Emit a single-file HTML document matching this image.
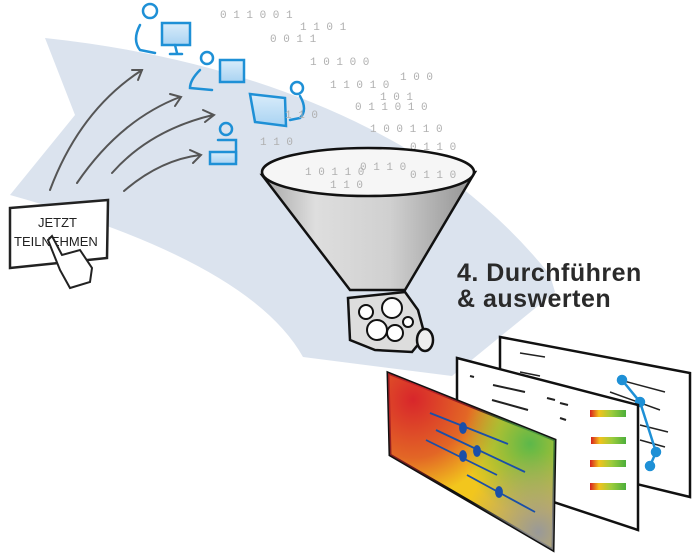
<!DOCTYPE html>
<html><head><meta charset="utf-8"><style>
html,body{margin:0;padding:0;background:#fff;width:700px;height:559px;overflow:hidden}
svg{display:block}
.b{font-family:"Liberation Mono",monospace;fill:#b0b0b0;font-size:11px}
</style></head><body>
<svg width="700" height="559" viewBox="0 0 700 559" xmlns="http://www.w3.org/2000/svg">
<defs>
<linearGradient id="fun" x1="0" x2="1">
<stop offset="0" stop-color="#a5a5a5"/><stop offset="0.25" stop-color="#dedede"/><stop offset="0.6" stop-color="#d0d0d0"/><stop offset="1" stop-color="#929292"/></linearGradient>
<radialGradient id="r1" cx="0.15" cy="0.15" r="0.55"><stop offset="0" stop-color="#d8262b"/><stop offset="0.6" stop-color="#d8262b" stop-opacity="0.6"/><stop offset="1" stop-color="#d8262b" stop-opacity="0"/></radialGradient>
<radialGradient id="g1" cx="0.85" cy="0.4" r="0.4"><stop offset="0" stop-color="#5cb84a"/><stop offset="1" stop-color="#5cb84a" stop-opacity="0"/></radialGradient>
<radialGradient id="k1" cx="0.9" cy="0.9" r="0.45"><stop offset="0" stop-color="#999"/><stop offset="1" stop-color="#999" stop-opacity="0"/></radialGradient>
<linearGradient id="bar" x1="0" x2="1"><stop offset="0" stop-color="#d62020"/><stop offset="0.25" stop-color="#f3c21b"/><stop offset="0.6" stop-color="#9ccc3c"/><stop offset="1" stop-color="#4caf3c"/></linearGradient>
<linearGradient id="scr" x1="0" x2="0" y1="0" y2="1"><stop offset="0" stop-color="#d9ecfa"/><stop offset="1" stop-color="#a9d3f2"/></linearGradient>
</defs>
<path d="M45,38 Q250,60 400,145 Q490,200 550,275 L555,292 L452,376 L303,357 Q250,262 10,195 L75,115 Z" fill="#dbe3ee"/>
<g fill="none" stroke="#555" stroke-width="2" stroke-linecap="round">
<path d="M50,190 Q80,110 142,70"/><path d="M132,70 L142,70 L138,80"/>
<path d="M77,183 Q120,120 180,97"/><path d="M170,94 L181,97 L175,106"/>
<path d="M112,173 Q150,130 213,115"/><path d="M203,110 L214,115 L205,122"/>
<path d="M124,191 Q160,160 200,155"/><path d="M190,150 L201,155 L193,163"/>
</g>
<path d="M10,208 L108,200 L107,258 L10,268 Z" fill="#fff" stroke="#222" stroke-width="2.5"/>
<text x="38" y="227" font-family="Liberation Sans,sans-serif" font-size="13" fill="#222">JETZT</text>
<text x="14" y="246" font-family="Liberation Sans,sans-serif" font-size="13" fill="#222">TEILNEHMEN</text>
<path d="M48,240 L60,270 L70,288 L90,282 L92,268 L80,250 L62,255 L52,236 Z" fill="#fff" stroke="#222" stroke-width="2"/>
<g stroke="#1e90d6" stroke-width="2.5" fill="none" stroke-linecap="round">
<circle cx="150" cy="11" r="7"/><path d="M140,25 Q132,40 140,50 L155,53"/><rect x="162" y="23" width="28" height="22" fill="url(#scr)"/><path d="M175,45 L177,53 M170,54 L182,54"/>
<circle cx="207" cy="58" r="6"/><path d="M200,70 Q190,80 190,88 L212,90"/><rect x="220" y="60" width="24" height="22" fill="url(#scr)"/>
<circle cx="297" cy="88" r="6"/><path d="M300,96 Q308,110 300,118 L290,120"/><path d="M250,94 L285,98 L286,126 L255,122 Z" fill="url(#scr)"/>
<circle cx="226" cy="129" r="6"/><path d="M218,140 L236,140 L236,160"/><rect x="210" y="152" width="26" height="12" fill="url(#scr)"/>
</g>
<g class="b">
<text x="220" y="18">0 1  1  0  0 1</text><text x="270" y="42">0 0 1 1</text><text x="300" y="30">1 1 0 1</text>
<text x="310" y="65">1 0 1 0 0</text><text x="330" y="88">1 1 0 1 0</text><text x="355" y="110">0 1 1 0 1 0</text>
<text x="370" y="132">1 0 0 1 1 0</text><text x="260" y="145">1 1 0</text><text x="285" y="118">1 1 0</text>
<text x="400" y="80">1 0 0</text><text x="410" y="150">0 1 1 0</text><text x="380" y="100">1 0 1</text>
</g>
<path d="M262,175 L350,290 L405,290 L475,172 Z" fill="url(#fun)" stroke="#111" stroke-width="2.5"/>
<ellipse cx="368" cy="172" rx="106" ry="24" fill="#f6f6f6" stroke="#111" stroke-width="2.5"/>
<g class="b"><text x="305" y="175">1 0 1 1 0</text><text x="360" y="170">0 1 1 0</text><text x="410" y="178">0 1 1 0</text><text x="330" y="188">1 1 0</text></g>
<path d="M348,298 L405,292 L418,310 L425,336 L412,352 L375,350 L350,340 Z" fill="#ddd" stroke="#111" stroke-width="2.5"/>
<ellipse cx="425" cy="340" rx="8" ry="11" fill="#eee" stroke="#111" stroke-width="2.5"/>
<g fill="#fff" stroke="#111" stroke-width="2"><circle cx="366" cy="312" r="7"/><circle cx="392" cy="308" r="10"/><circle cx="377" cy="330" r="10"/><circle cx="395" cy="333" r="8"/><circle cx="408" cy="322" r="5"/></g>
<text x="457" y="281" font-family="Liberation Sans,sans-serif" font-size="25" font-weight="bold" fill="#2a2a2a" letter-spacing="0.5">4. Durchführen</text>
<text x="457" y="307" font-family="Liberation Sans,sans-serif" font-size="25" font-weight="bold" fill="#2a2a2a" letter-spacing="0.5">&amp; auswerten</text>
<path d="M500,337 L690,373 L690,497 L620,480 L500,400 Z" fill="#fff" stroke="#111" stroke-width="2.5"/>
<g stroke="#222" stroke-width="1.5"><path d="M620,380 L665,392 M610,392 L660,410 M640,425 L668,432 M640,440 L665,447 M520,353 L545,357 M520,372 L540,376"/></g>
<g stroke="#1e90d6" stroke-width="2.5" fill="#1e90d6"><path d="M622,380 L640,402 L656,452 L650,466" fill="none"/><circle cx="622" cy="380" r="4"/><circle cx="640" cy="402" r="4"/><circle cx="656" cy="452" r="4"/><circle cx="650" cy="466" r="4"/></g>
<path d="M457,358 L638,405 L638,530 L457,470 Z" fill="#fff" stroke="#111" stroke-width="2.5"/>
<g stroke="#222" stroke-width="2"><path d="M493,385 L525,392 M492,400 L528,410 M547,398 L555,400 M560,403 L568,405 M560,418 L566,420 M470,376 L474,377"/></g>
<g fill="url(#bar)"><rect x="590" y="410" width="36" height="7"/><rect x="591" y="437" width="35" height="7"/><rect x="590" y="460" width="36" height="7"/><rect x="590" y="483" width="36" height="7"/></g>
<path d="M388,373 L555,440 L553,550 L390,455 Z" fill="#f2c61d" stroke="#111" stroke-width="3"/>
<path d="M388,373 L555,440 L553,550 L390,455 Z" fill="url(#r1)"/>
<path d="M388,373 L555,440 L553,550 L390,455 Z" fill="url(#g1)"/>
<path d="M388,373 L555,440 L553,550 L390,455 Z" fill="url(#k1)"/>
<g stroke="#1a4fa8" stroke-width="1.8" fill="#1a4fa8"><path d="M430,413 L508,444 M436,430 L525,472 M426,440 L497,475 M467,475 L535,512"/><ellipse cx="463" cy="428" rx="3" ry="5"/><ellipse cx="477" cy="451" rx="3" ry="5"/><ellipse cx="463" cy="456" rx="3" ry="5"/><ellipse cx="499" cy="492" rx="3" ry="5"/></g>
</svg>
</body></html>
